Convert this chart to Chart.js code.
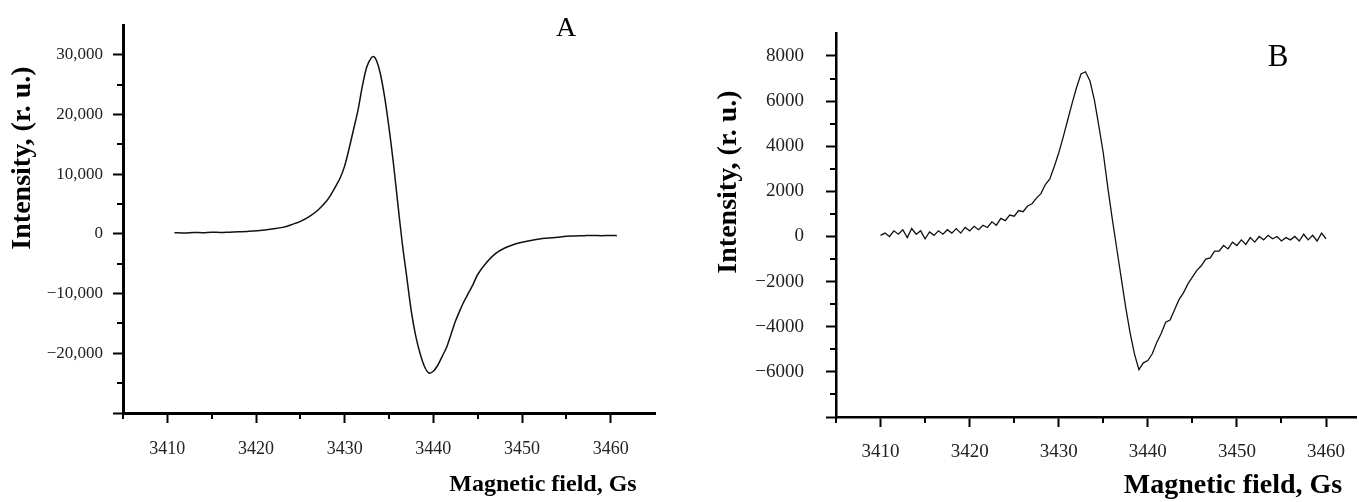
<!DOCTYPE html>
<html>
<head>
<meta charset="utf-8">
<script src="https://cdn.jsdelivr.net/npm/chart.js@4"></script>
<style>
  html, body { margin: 0; padding: 0; background: #fff; }
  #wrap { position: relative; width: 1359px; height: 502px; overflow: hidden; }
  .panel { position: absolute; top: 0; }
</style>
</head>
<body>
<div id="wrap">
  <div class="panel" style="left:0"><canvas id="chartA" width="680" height="502"></canvas></div>
  <div class="panel" style="left:680px"><canvas id="chartB" width="679" height="502"></canvas></div>
</div>
<script>
// panel A - smooth spectrum
const fieldA = [3410.8, 3412, 3413, 3414, 3415, 3416, 3417, 3418, 3419, 3420,
  3421, 3422, 3423, 3424, 3425, 3426, 3427, 3428, 3428.5, 3429,
  3429.5, 3430, 3430.5, 3431, 3431.5, 3432, 3432.5, 3433, 3433.3, 3433.6,
  3434, 3434.5, 3435, 3435.5, 3436, 3436.5, 3437, 3437.5, 3438, 3438.5,
  3439, 3439.5, 3440, 3440.5, 3441, 3441.5, 3442, 3442.5, 3443, 3443.5,
  3444, 3444.5, 3445, 3446, 3447, 3448, 3449, 3450, 3451, 3452,
  3453, 3454, 3455, 3456, 3457, 3458, 3459, 3460, 3460.7];
const intensityA = [200, 150, 250, 200, 300, 250, 300, 350, 400, 550,
  650, 850, 1100, 1550, 2100, 2900, 4000, 5600, 6700, 8000,
  9400, 11400, 14300, 17500, 20700, 24800, 28000, 29500, 29700, 29000,
  27000, 23000, 17800, 11800, 5000, -1600, -7200, -12800, -17000, -20000,
  -22200, -23300, -23000, -22000, -20500, -19000, -16800, -14600, -12800, -11200,
  -9800, -8400, -6800, -4800, -3300, -2400, -1800, -1400, -1100, -850,
  -700, -550, -400, -350, -300, -250, -300, -250, -300];

// panel B - noisy spectrum
const fieldB = [3410, 3410.5, 3411, 3411.5, 3412, 3412.5, 3413, 3413.5, 3414, 3414.5,
  3415, 3415.5, 3416, 3416.5, 3417, 3417.5, 3418, 3418.5, 3419, 3419.5,
  3420, 3420.5, 3421, 3421.5, 3422, 3422.5, 3423, 3423.5, 3424, 3424.5,
  3425, 3425.5, 3426, 3426.5, 3427, 3427.5, 3428, 3428.5, 3429, 3429.5,
  3430, 3430.5, 3431, 3431.5, 3432, 3432.5, 3433, 3433.5, 3434, 3434.5,
  3435, 3435.5, 3436, 3436.5, 3437, 3437.5, 3438, 3438.5, 3439, 3439.5,
  3440, 3440.5, 3441, 3441.5, 3442, 3442.5, 3443, 3443.5, 3444, 3444.5,
  3445, 3445.5, 3446, 3446.5, 3447, 3447.5, 3448, 3448.5, 3449, 3449.5,
  3450, 3450.5, 3451, 3451.5, 3452, 3452.5, 3453, 3453.5, 3454, 3454.5,
  3455, 3455.5, 3456, 3456.5, 3457, 3457.5, 3458, 3458.5, 3459, 3459.5,
  3460];
const intensityB = [50, 150, 0, 250, 100, 300, -50, 350, 100, 250,
  -100, 200, 50, 250, 100, 300, 150, 350, 150, 400,
  250, 450, 300, 500, 400, 650, 500, 800, 700, 950,
  900, 1150, 1100, 1350, 1450, 1700, 1900, 2300, 2550, 3100,
  3700, 4400, 5150, 5900, 6600, 7200, 7300, 6900, 6050, 4900,
  3700, 2200, 800, -500, -1800, -3100, -4250, -5200, -5900, -5600,
  -5500, -5200, -4700, -4300, -3800, -3700, -3250, -2800, -2500, -2100,
  -1800, -1500, -1300, -1000, -950, -650, -650, -400, -550, -250,
  -400, -150, -350, -50, -250, 0, -150, 50, -100, 0,
  -200, -50, -150, 0, -200, 100, -150, 50, -200, 150,
  -100];

const xLabels = [3410, 3420, 3430, 3440, 3450, 3460];
const yLabelsA = [30000, 20000, 10000, 0, -10000, -20000];
const yLabelsB = [8000, 6000, 4000, 2000, 0, -2000, -4000, -6000];

const serif = "'Liberation Serif', 'Times New Roman', serif";

function fmtA(v) {
  const s = Math.abs(v).toLocaleString("en-US");
  return v < 0 ? "\u2212" + s : s;
}
function fmtB(v) {
  return v < 0 ? "\u2212" + Math.abs(v) : String(v);
}

// free text: panel letter and axis titles
const panelText = {
  id: "panelText",
  afterDraw(chart, args, opts) {
    const ctx = chart.ctx;
    (opts.items || []).forEach((t) => {
      ctx.save();
      ctx.font = t.font;
      ctx.fillStyle = "#000";
      ctx.textAlign = "center";
      ctx.textBaseline = "middle";
      ctx.translate(t.x, t.y);
      if (t.rotate) ctx.rotate(t.rotate);
      ctx.fillText(t.text, 0, 0);
      ctx.restore();
    });
  }
};

// short minor ticks, placed with the chart's own scales
const minorTicks = {
  id: "minorTicks",
  afterDraw(chart, args, opts) {
    const ctx = chart.ctx;
    const xs = chart.scales.x, ys = chart.scales.y;
    ctx.save();
    ctx.strokeStyle = "#000";
    ctx.lineWidth = 2;
    ctx.beginPath();
    xs.ticks.forEach((t) => {
      const v = Math.round(t.value);
      if (v % 10 === 0 || v > 3460) return;
      const px = Math.round(xs.getPixelForValue(t.value));
      ctx.moveTo(px, xs.top);
      ctx.lineTo(px, xs.top + opts.len);
    });
    ys.ticks.forEach((t) => {
      const v = Math.round(t.value);
      if (v % opts.yMajor === 0 || v >= opts.yMax) return;
      const py = Math.round(ys.getPixelForValue(t.value));
      ctx.moveTo(ys.right - opts.len, py);
      ctx.lineTo(ys.right, py);
    });
    ctx.stroke();
    ctx.restore();
  }
};

function makeChart(id, cfg) {
  const tickCol = (isMajor) => (c) => {
    if (!c.tick) return "rgba(0,0,0,0)";
    return isMajor(Math.round(c.tick.value)) ? "#000" : "rgba(0,0,0,0)";
  };
  return new Chart(document.getElementById(id), {
    type: "scatter",
    data: {
      datasets: [{
        data: cfg.xs.map((x, i) => ({ x, y: cfg.ys[i] })),
        showLine: true,
        borderColor: "#111",
        borderWidth: cfg.lineWidth,
        pointRadius: 0,
        tension: cfg.tension
      }]
    },
    options: {
      responsive: false,
      animation: false,
      devicePixelRatio: 1,
      layout: { padding: { top: cfg.top, right: cfg.right, left: 0, bottom: 0 } },
      plugins: {
        legend: { display: false },
        tooltip: { enabled: false },
        panelText: { items: cfg.texts },
        minorTicks: { len: 6, yMajor: cfg.yMajor, yMax: cfg.yMax }
      },
      scales: {
        x: {
          type: "linear",
          min: 3405,
          max: cfg.xMax,
          afterFit: (s) => { s.height = cfg.xAxisH; },
          border: { display: true, color: "#000", width: cfg.axisW },
          grid: {
            drawOnChartArea: false,
            drawTicks: true,
            tickLength: 10,
            tickWidth: 2,
            tickColor: tickCol((v) => v % 10 === 0 && v <= 3460)
          },
          ticks: {
            stepSize: 5,
            includeBounds: false,
            autoSkip: false,
            maxRotation: 0,
            padding: cfg.xPad,
            color: "#222",
            font: { family: serif, size: cfg.xFont },
            callback: (v) => xLabels.includes(Math.round(v)) ? String(Math.round(v)) : ""
          }
        },
        y: {
          type: "linear",
          min: cfg.yMin,
          max: cfg.yMax,
          afterFit: (s) => { s.width = cfg.yAxisW; },
          border: { display: true, color: "#000", width: cfg.axisW },
          grid: {
            drawOnChartArea: false,
            drawTicks: true,
            tickLength: 10,
            tickWidth: 2,
            tickColor: tickCol((v) => v % cfg.yMajor === 0 && v < cfg.yMax)
          },
          ticks: {
            stepSize: cfg.yStep,
            includeBounds: false,
            autoSkip: false,
            padding: cfg.yPad,
            color: "#222",
            font: { family: serif, size: cfg.yFont },
            callback: (v) => cfg.yLabels.includes(Math.round(v)) ? cfg.fmt(Math.round(v)) : ""
          }
        }
      }
    },
    plugins: [panelText, minorTicks]
  });
}

makeChart("chartA", {
  xs: fieldA, ys: intensityA, lineWidth: 1.5, tension: 0.3,
  top: 25, right: 25, xMax: 3465, xAxisH: 89, yAxisW: 123,
  yMin: -30000, yMax: 35000, yStep: 5000, yMajor: 10000, yLabels: yLabelsA, fmt: fmtA,
  axisW: 3, xFont: 18, yFont: 17, xPad: 15, yPad: 10,
  texts: [
    { text: "A", x: 566, y: 29, font: "28px " + serif },
    { text: "Magnetic field, Gs", x: 543, y: 485, font: "bold 24px " + serif },
    { text: "Intensity, (r. u.)", x: 23, y: 158, rotate: -Math.PI / 2, font: "bold 28px " + serif }
  ]
});

makeChart("chartB", {
  xs: fieldB, ys: intensityB, lineWidth: 1.3, tension: 0,
  top: 23, right: 0, xMax: 3463.4, xAxisH: 85, yAxisW: 156,
  yMin: -8000, yMax: 9000, yStep: 1000, yMajor: 2000, yLabels: yLabelsB, fmt: fmtB,
  axisW: 2.5, xFont: 19, yFont: 19, xPad: 14, yPad: 22,
  texts: [
    { text: "B", x: 598, y: 58, font: "31px " + serif },
    { text: "Magnetic field, Gs", x: 553, y: 486, font: "bold 28px " + serif },
    { text: "Intensity, (r. u.)", x: 49, y: 182, rotate: -Math.PI / 2, font: "bold 28px " + serif }
  ]
});
</script>
</body>
</html>
